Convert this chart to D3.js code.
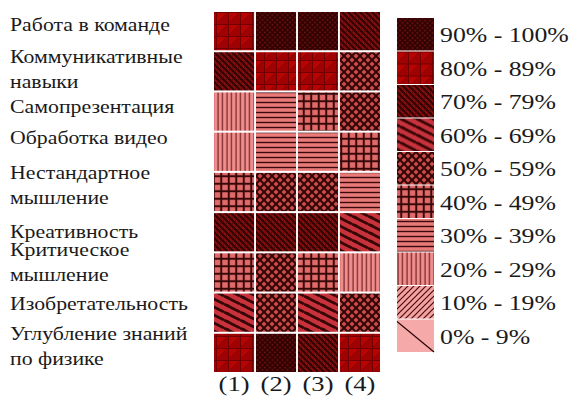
<!DOCTYPE html>
<html><head><meta charset="utf-8">
<script src="https://cdn.jsdelivr.net/npm/d3@7"></script>
<style>
html,body{margin:0;padding:0;background:#fff;}
svg{display:block;}
</style></head>
<body>
<svg id="chart" width="574" height="398"></svg>
<script>
// ---- data ----
const categories = [
  ["Работа в команде"],
  ["Коммуникативные", "навыки"],
  ["Самопрезентация"],
  ["Обработка видео"],
  ["Нестандартное", "мышление"],
  ["Креативность"],
  ["Критическое", "мышление"],
  ["Изобретательность"],
  ["Углубление знаний", "по физике"]
];
const columns = ["(1)", "(2)", "(3)", "(4)"];
// estimated share (%) per skill, read from the pattern bins
const col1 = [85, 75, 25, 25, 45, 75, 45, 65, 85];
const col2 = [95, 85, 35, 35, 55, 75, 55, 55, 95];
const col3 = [95, 85, 45, 35, 55, 75, 45, 65, 75];
const col4 = [75, 55, 55, 45, 35, 65, 25, 55, 85];
const legendLabels = ["90% - 100%", "80% - 89%", "70% - 79%", "60% - 69%", "50% - 59%",
                      "40% - 49%", "30% - 39%", "20% - 29%", "10% - 19%", "0% - 9%"];
const binThresholds = [10, 20, 30, 40, 50, 60, 70, 80, 90];

// ---- build ----
const FONT = "Liberation Serif";
const svg = d3.select("#chart");
const defs = svg.append("defs");
const series = [col1, col2, col3, col4];
const cells = [];
categories.forEach((c, r) => columns.forEach((col, k) =>
  cells.push({row: r, col: col, v: series[k][r]})));

const level = d3.scaleThreshold().domain(binThresholds).range(d3.range(10));

function mkPattern(id, w, h, bg, draw) {
  const p = defs.append("pattern").attr("id", id)
    .attr("patternUnits", "userSpaceOnUse").attr("width", w).attr("height", h);
  p.append("rect").attr("width", w).attr("height", h).attr("fill", bg);
  draw(p, w, h);
}
function ln(p, x1, y1, x2, y2, color, sw) {
  p.append("line").attr("x1", x1).attr("y1", y1).attr("x2", x2).attr("y2", y2)
    .attr("stroke", color).attr("stroke-width", sw);
}
mkPattern("p0", 10, 10, "#f5a9a9", () => {});
mkPattern("p1", 6, 6, "#f4a2a2", (p, w, h) => {
  ln(p, 0, h, w, 0, "#4a0c0c", 1.2); ln(p, -1, 1, 1, -1, "#4a0c0c", 1.2); ln(p, w-1, h+1, w+1, h-1, "#4a0c0c", 1.2);
});
mkPattern("p2", 4.5, 10, "#f08d8d", (p, w, h) => { ln(p, 2, 0, 2, h, "#6a1a1a", 1.1); });
mkPattern("p3", 10, 5, "#e97a7a", (p, w, h) => { ln(p, 0, 2.5, w, 2.5, "#3a0a0a", 1.4); });
mkPattern("p4", 7.5, 7.5, "#e26a6a", (p, w, h) => {
  ln(p, 3.75, 0, 3.75, h, "#360808", 2); ln(p, 0, 3.75, w, 3.75, "#360808", 2);
});
mkPattern("p5", 8, 8, "#c94a4a", (p, w, h) => {
  const c = "#330606";
  ln(p, 0, 0, w, h, c, 2); ln(p, 0, h, w, 0, c, 2);
});
mkPattern("p6", 16, 8, "#c8323a", (p, w, h) => {
  const c = "#360505";
  [-h, 0, h].forEach(y0 => ln(p, 0, y0, w, y0 + h, c, 2.8));
  ln(p, 4, 0, 4, 2, c, 1.2);
});
mkPattern("p7", 6, 6, "#8a1010", (p, w, h) => {
  const c = "#350202";
  ln(p, 0, 0, w, h, c, 2.4); ln(p, -w, 0, w, 2*h, c, 2.4); ln(p, 0, -h, 2*w, h, c, 2.4);
  ln(p, 0, h, w, 0, "#4a0505", 0.8);
});
mkPattern("p8", 12, 12, "#b80303", (p, w, h) => {
  p.append("path").attr("d", `M0,${h}L${w},0L${w},${h}Z`).attr("fill", "rgba(70,0,0,0.22)");
  ln(p, 0, 0.5, w, 0.5, "#700000", 1); ln(p, 0.5, 0, 0.5, h, "#700000", 1);
  ln(p, 0, h, w, 0, "#800000", 0.7);
});
mkPattern("p9", 5, 5, "#5e0c0c", (p, w, h) => {
  const c = "#2e0202";
  ln(p, 0, 0, w, h, c, 1.4); ln(p, 0, h, w, 0, c, 1.4);
});

// ---- grid ----
const x = d3.scaleBand().domain(columns).range([214, 380]).paddingInner(0.045);
const y = d3.scaleBand().domain(d3.range(categories.length)).range([12, 372]).paddingInner(0.05);

svg.append("g").selectAll("rect").data(cells).join("rect")
  .attr("x", d => x(d.col)).attr("y", d => y(d.row))
  .attr("width", x.bandwidth()).attr("height", y.bandwidth())
  .attr("fill", d => `url(#p${level(d.v)})`);

// the reference text is horizontally widened; measure and stretch to match
function stretchFor(str, size, target) {
  const t = svg.append("text").style("font-family", FONT).attr("font-size", size).text(str);
  const w = t.node().getComputedTextLength();
  t.remove();
  return w > 0 ? target / w : 1;
}

// column labels
const sxCol = Math.min(1.3, stretchFor("(1)", 21, 31));
svg.append("g").selectAll("text").data(columns).join("text")
  .attr("transform", d => `translate(${x(d) + x.bandwidth() / 2},391) scale(${sxCol},1)`)
  .attr("text-anchor", "middle").style("font-family", FONT).attr("font-size", 21)
  .attr("fill", "#1a1a1a").text(d => d);

// row labels
const sxRow = stretchFor("Изобретательность", 18, 178);
const labelDy = [-6, -14, -5, -14, -19, 0, -22, -9, -19]; // layout nudges per row
const rowG = svg.append("g").attr("transform", `translate(10,0) scale(${sxRow},1)`);
const rl = rowG.selectAll("text").data(categories).join("text")
  .attr("x", 0)
  .attr("y", (d, i) => y(i) + y.bandwidth() / 2 + 6 + labelDy[i])
  .style("font-family", FONT).attr("font-size", 18).attr("fill", "#1a1a1a");
rl.selectAll("tspan").data(d => d).join("tspan")
  .attr("x", 0).attr("dy", (d, j) => j === 0 ? 0 : 25).text(d => d);

// ---- legend ----
const ly = d3.scaleBand().domain(legendLabels).range([18, 352]).paddingInner(0.03);
const lg = svg.append("g").selectAll("g").data(legendLabels).join("g")
  .attr("transform", d => `translate(0,${ly(d)})`);
lg.append("rect").attr("x", 397).attr("width", 37).attr("height", ly.bandwidth())
  .attr("fill", (d, i) => `url(#p${9 - i})`);
lg.filter((d, i) => i === 9).append("line")
  .attr("x1", 397).attr("y1", 2).attr("x2", 434).attr("y2", ly.bandwidth())
  .attr("stroke", "#2a0505").attr("stroke-width", 1.2);
const sxLeg = stretchFor("80% - 89%", 22, 116);
lg.append("text")
  .attr("transform", `translate(440,${ly.bandwidth() / 2 + 8}) scale(${sxLeg},1)`)
  .style("font-family", FONT).attr("font-size", 22).attr("fill", "#1a1a1a")
  .text(d => d);
</script>
</body></html>
